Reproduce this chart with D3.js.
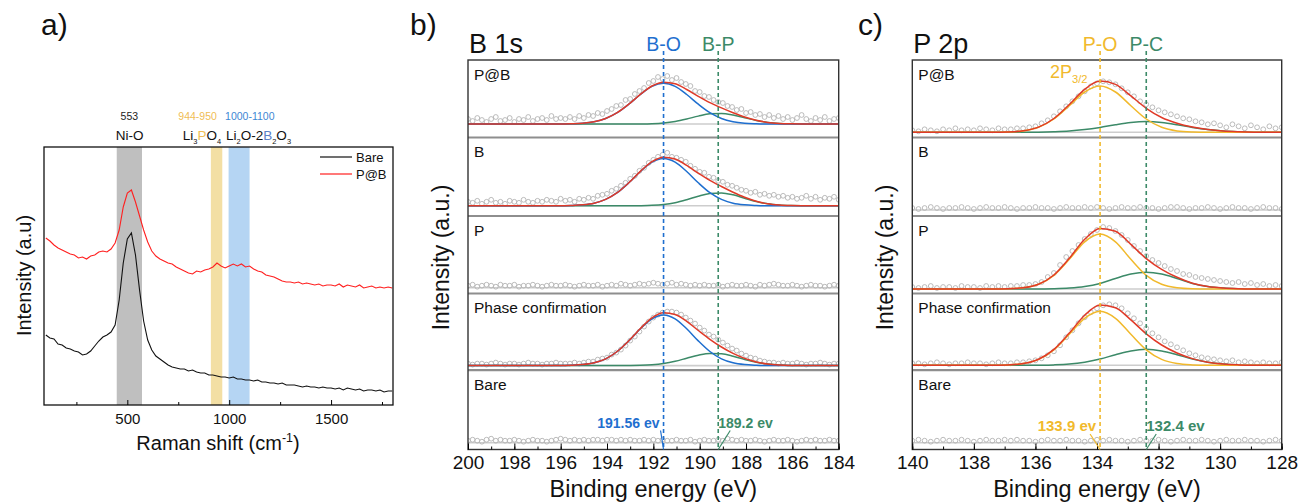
<!DOCTYPE html>
<html>
<head>
<meta charset="utf-8">
<title>Raman and XPS</title>
<script src="https://cdn.jsdelivr.net/npm/d3@7"></script>
<style>
    body { margin: 0; background: #fff; }
    #chart svg { display: block; font-family: "Liberation Sans", Arial, Helvetica, sans-serif; }
</style>
</head>
<body>
<div id="chart"></div>
<script>
// ---------- a) Raman ----------
const ramanShift = d3.range(100, 1801, 20);
const ramanBare = [70,67,66,61,60,57,56,54,53,50, 51,54,59,64,68,70,73,80,105,142,
    166,172,150,115,84,65,55,49,46,43, 40,38,37,36,36,34,35,33,32,32,
    30,30,29,28,28,27,28,26,26,25, 25,24,25,23,23,22,22,21,22,20,
    20,20,19,18,19,18,18,17,18,17, 17,16,17,15,17,16,15,16,14,15,
    15,14,15,13,14,14];
const ramanPB = [167,164,160,157,155,153,151,150,147,148, 146,149,150,153,154,153,156,162,175,198,
    212,215,203,189,175,163,154,149,146,144, 142,141,138,136,134,132,131,134,133,135,
    136,138,142,139,137,139,141,139,141,138, 139,136,134,133,130,129,128,126,124,123,
    123,122,123,121,122,121,120,121,119,120, 120,119,121,118,120,119,118,120,117,118,
    119,117,118,117,118,117];
const ramanSeries = ["Bare", "P@B"];
const ramanBands = [[448, 572], [910, 966], [997, 1100]];
const ramanBandNumbers = ["553", "944-950", "1000-1100"];
const ramanNumberAt = [510, 845, 1101];
const ramanSpeciesAt = [511, 866, 1144];
const ramanMajorTicks = [500, 1000, 1500];
const ramanMinorTicks = [250, 750, 1250, 1750];

// ---------- shared stack ----------
const stackNames = ["P@B", "B", "P", "Phase confirmation", "Bare"];

// ---------- b) B 1s ----------
const b1sEnergy = d3.range(0, 81).map(i => 200 - 0.2 * i);
const b1sPB = [5,3,6,4,2,5,7,3,4,6,2,5,4,7,3,5,6,4,8,5,6,
    5,7,5,8,6,9,8,11,10,13,15,18,19,24,25,30,33,36,41,43,
    47,45,48,44,46,42,40,38,33,32,28,27,24,22,21,18,17,14,15,11,
    12,9,10,7,9,6,8,5,7,4,6,9,5,3,6,4,7,3,5,6];
const b1sB = [4,3,5,2,4,6,3,4,2,5,4,3,6,4,3,5,4,6,5,4,7,
    5,6,4,7,6,8,7,10,11,12,15,17,20,23,27,30,35,38,43,46,
    49,51,53,49,48,46,44,40,37,34,33,29,28,25,24,21,20,18,16,15,
    13,14,11,12,10,11,9,10,8,9,7,8,10,7,9,6,8,7,9,6];
const b1sP = [2,3,1,2,3,2,1,3,2,2,3,1,2,2,3,2,1,2,3,2,2,
    3,2,1,2,3,2,2,3,1,2,3,2,4,3,2,3,4,3,4,5,
    4,3,4,5,3,4,3,2,3,2,3,2,2,3,1,2,3,2,2,3,
    2,1,3,2,3,4,3,2,2,3,2,1,2,3,2,2,1,2,3,2];
const b1sPhase = [2,1,2,2,1,2,3,2,1,2,2,1,2,3,2,2,1,2,2,3,2,
    2,2,3,2,3,4,4,6,7,8,11,13,16,20,25,29,34,39,44,48,
    51,53,54,54,53,51,48,45,42,38,35,31,29,26,23,20,17,15,12,10,
    8,7,5,4,3,3,2,3,2,2,3,2,1,2,2,3,2,1,2,2];
const b1sBare = [2,3,2,1,3,4,2,3,2,2,3,2,1,2,3,2,2,1,2,3,4,
    3,2,3,2,3,2,3,3,2,3,3,2,3,2,3,2,2,3,2,3,
    2,3,2,2,3,2,2,3,1,2,3,2,2,3,2,4,3,2,3,2,
    2,3,2,1,2,3,2,2,3,2,1,2,3,2,3,2,2,3,2,2];

const b1sFitEnergy = [200, 196.06, 195.56, 195.06, 194.56, 194.06, 193.56, 193.06, 192.56, 192.06, 191.56,
    191.06, 190.56, 190.06, 189.56, 189.06, 188.56, 188.06, 187.56, 187.06, 186.56, 186.06, 185.56, 185.06, 184];
const b1sPB_BO = [0, 0,0.25,0.8,2.3,5.5,11.3,19.8,29.5,37.6,40.7,37.6,29.5,19.8,11.3,5.5,2.3,0.8,0.25,0,0,0,0,0, 0];
const b1sPB_BP = [0, 0,0,0,0,0,0,0.02,0.1,0.36,1.07,2.56,4.99,7.89,10.14,10.61,9.03,6.25,3.52,1.62,0.6,0.18,0.04,0, 0];
const b1sPB_env = [0, 0,0.25,0.8,2.3,5.5,11.3,19.8,29.6,38.0,41.8,40.2,34.5,27.7,21.4,16.1,11.3,7.05,3.8,1.6,0.6,0.2,0.04,0, 0];
const b1sB_BO = [0, 0,0.3,0.95,2.6,6.4,13.1,23.0,34.3,43.7,47.3,43.7,34.3,23.0,13.1,6.4,2.6,0.95,0.3,0,0,0,0,0, 0];
const b1sB_BP = [0, 0,0,0,0,0,0,0.02,0.12,0.44,1.3,3.1,6.06,9.58,12.3,12.9,11.0,7.6,4.3,1.96,0.73,0.22,0.05,0, 0];
const b1sB_env = [0, 0,0.3,0.95,2.6,6.4,13.1,23.0,34.4,44.1,48.6,46.8,40.4,32.6,25.4,19.3,13.6,8.55,4.6,1.96,0.73,0.22,0.05,0, 0];
const b1sPh_BO = [0, 0,0.3,1.0,2.8,6.8,14.1,24.7,36.8,46.8,50.7,46.8,36.8,24.7,14.1,6.8,2.8,1.0,0.3,0,0,0,0,0, 0];
const b1sPh_BP = [0, 0,0,0,0,0,0,0.08,0.28,0.85,2.1,4.3,7.4,10.4,12.2,11.8,9.4,6.2,3.4,1.55,0.58,0.18,0.05,0, 0];
const b1sPh_env = [0, 0,0.3,1.0,2.8,6.8,14.1,24.8,37.1,47.7,52.8,51.1,44.2,35.1,26.3,18.6,12.2,7.2,3.7,1.55,0.58,0.18,0.05,0, 0];

// ---------- c) P 2p ----------
const p2pEnergy = d3.range(0, 61).map(i => 140 - 0.2 * i);
const p2pPB = [2,1,3,2,1,3,2,4,2,3,2,4,3,2,4,3,3,4,4,5,6,
    9,12,16,21,26,31,36,41,46,49,51,50,48,44,40,36,31,28,25,22,
    20,18,16,14,13,11,10,8,9,7,5,8,6,4,7,5,3,6,4,5];
const p2pB = [2,1,2,3,2,1,2,2,3,2,1,2,3,2,2,3,2,1,2,2,3,
    2,2,1,2,3,2,2,3,2,3,2,1,2,3,2,2,3,2,2,1,
    2,3,3,2,1,2,2,3,2,1,2,3,2,2,1,2,3,2,2,1];
const p2pP = [2,1,2,3,1,2,2,1,3,2,2,1,3,2,3,2,3,3,4,4,5,
    7,12,16,24,32,38,44,50,55,59,62,61,58,54,49,43,38,33,29,26,
    23,20,18,15,14,12,11,10,9,8,7,6,7,5,6,4,5,3,4,3];
const p2pPhase = [2,2,1,2,3,2,1,2,2,3,2,2,1,2,3,2,2,3,3,4,5,
    7,10,14,20,28,35,42,48,53,57,60,61,60,57,52,47,42,37,32,28,
    24,21,18,15,12,10,8,7,6,5,4,5,3,4,3,2,3,2,2,3];
const p2pBare = [2,3,2,1,2,3,2,2,3,2,1,2,3,2,2,3,2,3,2,2,1,
    2,3,2,2,3,2,2,1,2,3,2,3,2,2,1,2,3,2,2,3,
    2,1,2,3,2,2,3,2,1,2,3,2,2,3,2,2,1,2,3,2];

const p2pFitEnergy = [140, 137.9, 137.4, 136.9, 136.4, 135.9, 135.4, 134.9, 134.4, 133.9, 133.4,
    132.9, 132.4, 131.9, 131.4, 130.9, 130.4, 129.9, 129.4, 128.9, 128];
const p2pPB_PO = [0, 0,0,0.3,1.4,5.0,13.3,26.6,40.3,46.3,40.3,26.6,13.3,5.0,1.4,0.3,0,0,0,0, 0];
const p2pPB_PC = [0, 0,0,0,0.05,0.15,0.5,1.2,2.7,4.9,7.6,9.8,10.7,9.8,7.6,4.9,2.7,1.2,0.5,0.15, 0];
const p2pPB_env = [0, 0,0,0.3,1.45,5.15,13.8,27.8,43.0,51.2,47.9,36.4,24.0,14.8,9.0,5.2,2.7,1.2,0.5,0.15, 0];
const p2pP_PO = [0, 0,0,0.2,1.2,4.7,13.7,29.7,47.2,55,47.2,29.7,13.7,4.7,1.2,0.2,0,0,0,0, 0];
const p2pP_PC = [0, 0,0,0,0,0.1,0.35,1.0,2.5,5.6,10.5,14.9,16.7,14.9,10.5,5.6,2.5,1.0,0.35,0.1, 0];
const p2pP_env = [0, 0,0,0.2,1.2,4.8,14.05,30.7,49.7,60.6,57.7,44.6,30.4,19.6,11.7,5.8,2.5,1.0,0.35,0.1, 0];
const p2pPh_PO = [0, 0,0,0.4,1.7,5.9,15.5,31.0,47.0,54,47.0,31.0,15.5,5.9,1.7,0.4,0,0,0,0, 0];
const p2pPh_PC = [0, 0,0,0,0,0.1,0.4,1.2,3.1,6.3,10.6,14.4,16,14.4,10.6,6.3,3.1,1.2,0.4,0.1, 0];
const p2pPh_env = [0, 0,0,0.4,1.7,6.0,15.9,32.2,50.1,60.3,57.6,45.4,31.5,20.3,12.3,6.7,3.1,1.2,0.4,0.1, 0];

// ---------- colours / layout ----------
const FONT = "Liberation Sans, Arial, sans-serif";
const BLUE = "#1f6fcf", GREEN = "#3c8a68", RED = "#e03a28", GOLD = "#f1b92c";
const rowBounds = [60, 137.5, 216, 293.5, 370.2, 449.5];

const svg = d3.select("#chart").append("svg").attr("width", 1299).attr("height", 504);

function richText(text, parts, size, subScale = 0.62) {
    let shift = 0;
    parts.forEach(function(p) {
        let want = p.sub ? size * 0.3 : (p.sup ? -size * 0.4 : 0);
        text.append("tspan")
            .attr("dy", want - shift)
            .attr("font-size", (p.sub || p.sup) ? size * subScale : size)
            .attr("fill", p.color || null)
            .text(p.t);
        shift = want;
    });
}

function drawRaman(root) {
    let left = 44, right = 393, top = 147, bottom = 405;
    let x = d3.scaleLinear().domain([91, 1804]).range([left, right]);
    let y = d3.scaleLinear().domain([0, 258]).range([bottom, top]);
    let g = root.append("g").attr("class", "raman");
    let bandColors = ["#bfbfbf", "#f3dfa4", "#b5d5f3"];
    g.selectAll("rect.band").data(ramanBands).join("rect")
        .attr("class", "band")
        .attr("x", d => x(d[0]))
        .attr("width", d => x(d[1]) - x(d[0]))
        .attr("y", top)
        .attr("height", bottom - top)
        .attr("fill", (d, i) => bandColors[i]);

    let line = d3.line().x((d, i) => x(ramanShift[i])).y(d => y(d));
    let seriesColors = ["#111", "#ff1f1f"];
    [ramanBare, ramanPB].forEach(function(vals, i) {
        g.append("path").datum(vals)
            .attr("d", line)
            .attr("fill", "none")
            .attr("stroke", seriesColors[i])
            .attr("stroke-width", 1.1);
    });

    g.append("rect").attr("x", left).attr("y", top).attr("width", right - left).attr("height", bottom - top)
        .attr("fill", "none").attr("stroke", "#111").attr("stroke-width", 1.3);

    g.append("g").attr("transform", `translate(0,${bottom})`)
        .call(d3.axisBottom(x).tickValues(ramanMinorTicks).tickSize(-3).tickFormat(""))
        .call(a => a.select(".domain").remove());
    g.append("g").attr("transform", `translate(0,${bottom})`)
        .call(d3.axisBottom(x).tickValues(ramanMajorTicks).tickSize(-5).tickPadding(8.3).tickFormat(d3.format("d")))
        .call(a => a.select(".domain").remove())
        .attr("font-family", FONT).attr("font-size", 15)
        .selectAll("text").attr("fill", "#111");

    // band captions
    let numberColors = ["#222", "#f0bd55", "#3d87d4"];
    ramanBandNumbers.forEach(function(t, i) {
        g.append("text").attr("x", x(ramanNumberAt[i])).attr("y", 120)
            .attr("text-anchor", "middle").attr("font-size", 10.5)
            .attr("fill", numberColors[i]).text(t);
    });
    let species = [
        [{t: "Ni-O"}],
        [{t: "Li"}, {t: "3", sub: true}, {t: "P", color: "#f0bd55"}, {t: "O"}, {t: "4", sub: true}],
        [{t: "Li"}, {t: "2", sub: true}, {t: "O-2"}, {t: "B", color: "#5b80c6"}, {t: "2", sub: true}, {t: "O"}, {t: "3", sub: true}]
    ];
    species.forEach(function(parts, i) {
        let t = g.append("text").attr("x", x(ramanSpeciesAt[i])).attr("y", 139.5)
            .attr("text-anchor", "middle").attr("fill", "#111");
        richText(t, parts, 13.5, 0.55);
    });

    // legend
    ramanSeries.forEach(function(name, i) {
        let ly = 157 + i * 17;
        g.append("line").attr("x1", 320).attr("x2", 352).attr("y1", ly).attr("y2", ly)
            .attr("stroke", seriesColors[i]).attr("stroke-width", 1.2);
        g.append("text").attr("x", 356).attr("y", ly + 4.5).attr("font-size", 13)
            .attr("fill", "#111").text(name);
    });

    g.append("text").attr("transform", "translate(31,275.5) rotate(-90)")
        .attr("text-anchor", "middle").attr("font-size", 20).attr("fill", "#111")
        .text("Intensity (a.u)");
    let xl = g.append("text").attr("x", 218).attr("y", 450).attr("text-anchor", "middle").attr("fill", "#111");
    richText(xl, [{t: "Raman shift (cm"}, {t: "-1", sup: true}, {t: ")"}], 20);

    g.append("text").attr("x", 41).attr("y", 35).attr("font-size", 30).attr("fill", "#111").text("a)");
}

class XpsStack {
    constructor({root, id, left, right, domain, energy, samples, fitEnergy, fits, baseGap, refs, title, letter, letterX, ylabelX}) {
        this.root = root;
        this.id = id;
        this.left = left;
        this.right = right;
        this.domain = domain;
        this.energy = energy;
        this.samples = samples;
        this.fitEnergy = fitEnergy;
        this.fits = fits;
        this.baseGap = baseGap;
        this.refs = refs;
        this.title = title;
        this.letter = letter;
        this.letterX = letterX;
        this.ylabelX = ylabelX;
    }
    draw() {
        let self = this;
        let top = rowBounds[0], bottom = rowBounds[rowBounds.length - 1];
        this.x = d3.scaleLinear().domain(this.domain).range([this.left, this.right]);
        let g = this.root.append("g").attr("class", this.id);
        g.append("clipPath").attr("id", this.id + "-clip").append("rect")
            .attr("x", this.left).attr("y", top)
            .attr("width", this.right - this.left).attr("height", bottom - top);
        let plot = g.append("g").attr("clip-path", `url(#${this.id}-clip)`);

        stackNames.forEach(function(name, i) {
            let base = rowBounds[i + 1] - self.baseGap[i];
            let y = d3.scaleLinear().domain([0, 70]).range([base, base - 70]);
            let row = plot.append("g").attr("class", "row");
            row.append("line")
                .attr("x1", self.x(self.domain[0])).attr("x2", self.x(self.domain[1]))
                .attr("y1", y(0)).attr("y2", y(0))
                .attr("stroke", "#cdcdcd").attr("stroke-width", 1.6);
            row.selectAll("circle").data(self.samples[i]).join("circle")
                .attr("cx", (d, k) => self.x(self.energy[k]))
                .attr("cy", d => y(d))
                .attr("r", 2.4)
                .attr("fill", "none")
                .attr("stroke", "#b3b3b3")
                .attr("stroke-width", 0.9);
            let line = d3.line().curve(d3.curveMonotoneX)
                .x((d, k) => self.x(self.fitEnergy[k]))
                .y(d => y(d));
            (self.fits[i] || []).forEach(function(c) {
                row.append("path").datum(c.values)
                    .attr("d", line)
                    .attr("fill", "none")
                    .attr("stroke", c.color)
                    .attr("stroke-width", 1.5);
            });
            g.append("text")
                .attr("x", self.left + 6).attr("y", rowBounds[i] + 19.5)
                .attr("font-size", 15.5).attr("fill", "#111")
                .text(name);
        });

        rowBounds.slice(1, -1).forEach(function(yy) {
            g.append("line").attr("x1", self.left).attr("x2", self.right).attr("y1", yy).attr("y2", yy)
                .attr("stroke", "#8e8e8e").attr("stroke-width", 2.2);
        });
        g.append("rect").attr("x", this.left).attr("y", top)
            .attr("width", this.right - this.left).attr("height", bottom - top)
            .attr("fill", "none").attr("stroke", "#333").attr("stroke-width", 1.4);

        let lo = Math.min(...this.domain), hi = Math.max(...this.domain);
        g.append("g").attr("transform", `translate(0,${bottom})`)
            .call(d3.axisBottom(this.x).tickValues(d3.range(lo, hi + 1, 1)).tickSize(-3).tickFormat(""))
            .call(a => a.select(".domain").remove());
        g.append("g").attr("transform", `translate(0,${bottom})`)
            .call(d3.axisBottom(this.x).tickValues(d3.range(lo, hi + 1, 2)).tickSize(-6).tickPadding(6))
            .call(a => a.select(".domain").remove())
            .attr("font-family", FONT).attr("font-size", 19)
            .selectAll("text").attr("fill", "#111");

        // reference lines and their labels
        this.refs.forEach(function(r) {
            let rx = self.x(r.energy);
            g.append("line").attr("x1", rx).attr("x2", rx).attr("y1", 51).attr("y2", bottom)
                .attr("stroke", r.color).attr("stroke-width", 1.6).attr("stroke-dasharray", "4,3");
            g.append("text").attr("x", rx).attr("y", 51).attr("text-anchor", "middle")
                .attr("font-size", 19.5).attr("fill", r.color).text(r.name);
            let toLeft = r.side === "left";
            g.append("text")
                .attr("x", rx + (toLeft ? -4 : 0)).attr("y", r.noteY)
                .attr("text-anchor", toLeft ? "end" : "start")
                .attr("font-size", r.noteSize).attr("font-weight", "bold")
                .attr("fill", r.color).text(r.note);
            g.append("line")
                .attr("x1", rx + r.leadDx).attr("y1", r.noteY + 3)
                .attr("x2", rx).attr("y2", bottom)
                .attr("stroke", r.color).attr("stroke-width", 1.2);
        });

        g.append("text").attr("x", this.left + 1).attr("y", 53).attr("font-size", 27)
            .attr("fill", "#111").text(this.title);
        g.append("text").attr("x", this.letterX).attr("y", 35).attr("font-size", 30)
            .attr("fill", "#111").text(this.letter);
        g.append("text").attr("transform", `translate(${this.ylabelX},257.5) rotate(-90)`)
            .attr("text-anchor", "middle").attr("font-size", 23).attr("fill", "#111")
            .text("Intensity (a.u.)");
        g.append("text").attr("x", (this.left + this.right) / 2).attr("y", 497)
            .attr("text-anchor", "middle").attr("font-size", 23.5).attr("fill", "#111")
            .text("Binding energy (eV)");
    }
}

drawRaman(svg);

let b1s = new XpsStack({
    root: svg, id: "b1s", left: 468, right: 838.7, domain: [200, 184],
    energy: b1sEnergy,
    samples: [b1sPB, b1sB, b1sP, b1sPhase, b1sBare],
    fitEnergy: b1sFitEnergy,
    fits: [
        [{values: b1sPB_BP, color: GREEN}, {values: b1sPB_BO, color: BLUE}, {values: b1sPB_env, color: RED}],
        [{values: b1sB_BP, color: GREEN}, {values: b1sB_BO, color: BLUE}, {values: b1sB_env, color: RED}],
        null,
        [{values: b1sPh_BP, color: GREEN}, {values: b1sPh_BO, color: BLUE}, {values: b1sPh_env, color: RED}],
        null
    ],
    baseGap: [13.5, 10.2, 5.8, 4.6, 6.8],
    refs: [
        {energy: 191.56, name: "B-O", color: BLUE, note: "191.56 ev", side: "left", noteY: 427.5, noteSize: 14, leadDx: -3},
        {energy: 189.2, name: "B-P", color: GREEN, note: "189.2 ev", side: "right", noteY: 427.5, noteSize: 14, leadDx: 12}
    ],
    title: "B 1s", letter: "b)", letterX: 410, ylabelX: 449
});
b1s.draw();

let p2p = new XpsStack({
    root: svg, id: "p2p", left: 912.3, right: 1281.7, domain: [140, 128],
    energy: p2pEnergy,
    samples: [p2pPB, p2pB, p2pP, p2pPhase, p2pBare],
    fitEnergy: p2pFitEnergy,
    fits: [
        [{values: p2pPB_PC, color: GREEN}, {values: p2pPB_PO, color: GOLD}, {values: p2pPB_env, color: RED}],
        null,
        [{values: p2pP_PC, color: GREEN}, {values: p2pP_PO, color: GOLD}, {values: p2pP_env, color: RED}],
        [{values: p2pPh_PC, color: GREEN}, {values: p2pPh_PO, color: GOLD}, {values: p2pPh_env, color: RED}],
        null
    ],
    baseGap: [5.2, 6, 4.5, 4.9, 6.8],
    refs: [
        {energy: 133.9, name: "P-O", color: GOLD, note: "133.9 ev", side: "left", noteY: 431, noteSize: 15, leadDx: -10},
        {energy: 132.4, name: "P-C", color: GREEN, note: "132.4 ev", side: "right", noteY: 431, noteSize: 15, leadDx: 10}
    ],
    title: "P 2p", letter: "c)", letterX: 858, ylabelX: 893
});
p2p.draw();

// spin-orbit label for the P-O component
let so = svg.append("text").attr("x", 1050).attr("y", 78).attr("fill", GOLD);
richText(so, [{t: "2P"}, {t: "3/2", sub: true}], 18);
</script>
</body>
</html>
